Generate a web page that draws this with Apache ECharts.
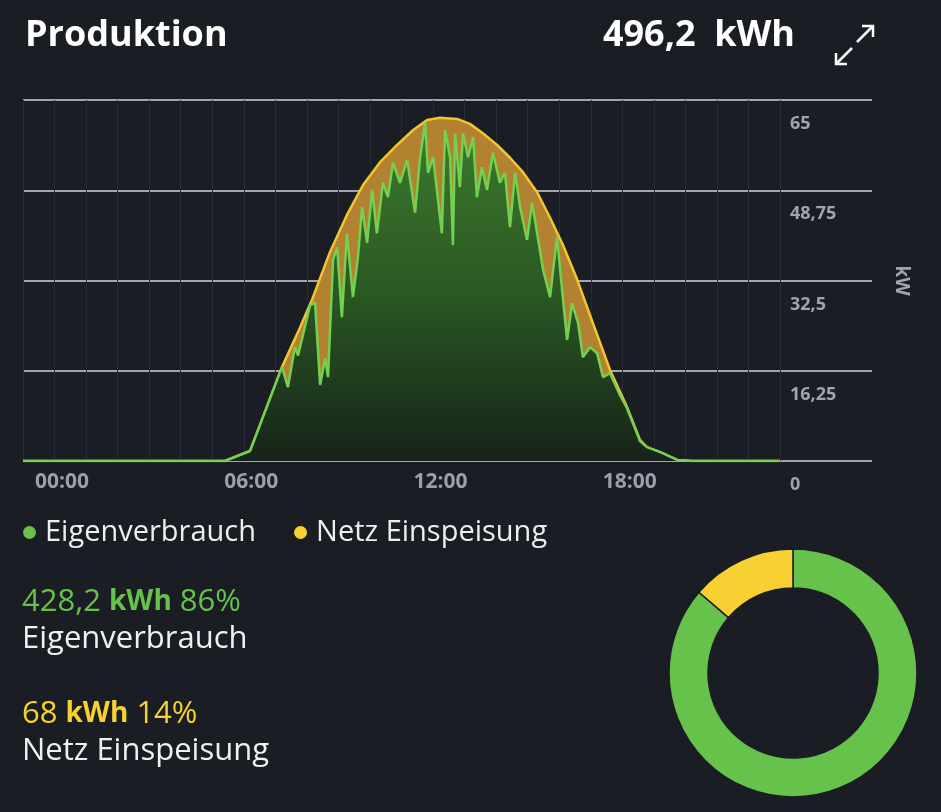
<!DOCTYPE html>
<html>
<head>
<meta charset="utf-8">
<script src="https://cdn.jsdelivr.net/npm/echarts@6/dist/echarts.min.js"></script>
<style>
  html, body { margin: 0; padding: 0; background: #1a1d23; }
  #chart { width: 941px; height: 812px; }
</style>
</head>
<body>
<div id="chart"></div>
<script>
// ---- data ----
const xTickLabels = ['00:00', '06:00', '12:00', '18:00'];
const yTicks = [0, 16.25, 32.5, 48.75, 65];

// Netz Einspeisung (upper envelope = total production), hours / kW
const prodHours = [0, 6.4, 7.2, 8.21, 8.78, 9.16, 9.73, 10.27, 10.78, 11.32, 11.86, 12.37, 12.81, 13.22, 13.76, 14.17, 14.58, 15.03, 15.44, 15.85, 16.3, 16.71, 17.12, 17.56, 18.07, 18.61, 19.15, 19.56, 19.78, 20.2, 20.74, 21.2, 24];
const prodKW    = [0, 0, 1.8, 16.9, 24.0, 29.0, 37.6, 44.3, 49.7, 53.8, 56.9, 59.6, 61.4, 61.8, 61.6, 60.7, 59.0, 56.9, 54.6, 52.0, 48.4, 43.8, 38.9, 32.8, 24.8, 16.4, 9.7, 3.8, 2.5, 1.6, 0.2, 0, 0];

// Eigenverbrauch, hours / kW
const eigenHours = [0, 6.4, 7.2, 8.21, 8.4, 8.62, 8.72, 9.1, 9.26, 9.42, 9.58, 9.67, 9.83, 9.96, 10.11, 10.27, 10.46, 10.62, 10.75, 10.91, 11.07, 11.22, 11.41, 11.57, 11.73, 11.95, 12.18, 12.43, 12.59, 12.75, 12.84, 13.0, 13.28, 13.38, 13.54, 13.63, 13.7, 13.85, 13.95, 14.11, 14.27, 14.39, 14.55, 14.71, 14.9, 15.12, 15.28, 15.44, 15.6, 15.76, 15.98, 16.14, 16.3, 16.49, 16.71, 16.93, 17.09, 17.25, 17.41, 17.6, 17.75, 17.98, 18.2, 18.39, 18.61, 18.93, 19.15, 19.56, 19.78, 20.2, 20.74, 21.2, 24];
const eigenKW    = [0, 0, 1.8, 16.9, 13.3, 20.5, 19.0, 28.0, 28.5, 13.7, 18.5, 15.1, 36.2, 38.5, 25.9, 41.0, 29.5, 36.7, 45.7, 39.3, 48.8, 41.0, 50.1, 47.5, 53.7, 50.1, 54.2, 44.7, 54.7, 60.9, 51.9, 54.7, 41.0, 59.6, 54.7, 38.9, 59.0, 49.3, 59.0, 54.7, 58.3, 47.5, 52.9, 48.8, 55.5, 50.1, 51.9, 42.1, 51.9, 45.7, 39.8, 46.5, 41.0, 34.4, 29.5, 40.3, 30.8, 21.8, 28.4, 24.8, 18.7, 20.5, 19.4, 15.1, 15.8, 11.8, 9.5, 3.6, 2.5, 1.6, 0.2, 0, 0];

// Summary values
const totalLabel = '496,2  kWh';
const donutNames = ['Eigenverbrauch', 'Netz Einspeisung'];
const donutValues = [428.2, 68];
const donutPercents = ['86%', '14%'];
const donutValueLabels = ['428,2', '68'];

// ---- chart ----
const GREEN = '#66c24a';
const YELLOW = '#f7d031';
const chart = echarts.init(document.getElementById('chart'), null, { renderer: 'canvas' });

const zip = (a, b) => a.map((v, i) => [v, b[i]]);

const option = {
  backgroundColor: '#1a1d23',
  animation: false,
  grid: [
    { left: 23, top: 100, width: 757, height: 361 },
    { left: 23, top: 100, width: 849, height: 361 }
  ],
  xAxis: [
    {
      type: 'value', gridIndex: 0, min: 0, max: 24, interval: 1,
      axisLine: { show: false }, axisTick: { show: false },
      splitLine: { show: true, lineStyle: { color: '#272b33', width: 1 } },
      axisLabel: {
        color: '#9b9fa6', fontSize: 21, fontWeight: 'bold', fontFamily: 'Open Sans',
        align: 'left', margin: 11, padding: [0, 0, 0, 12],
        showMaxLabel: false,
        formatter: function (v) {
          const idx = xTickLabels.indexOf((v < 10 ? '0' : '') + v + ':00');
          return (v % 6 === 0 && idx >= 0) ? xTickLabels[idx] : '';
        }
      }
    },
    { type: 'value', gridIndex: 1, min: 0, max: 1, show: false }
  ],
  yAxis: [
    { type: 'value', gridIndex: 0, min: 0, max: 65, show: false },
    {
      type: 'value', gridIndex: 1, min: yTicks[0], max: yTicks[yTicks.length - 1], interval: yTicks[1],
      position: 'right',
      axisLine: { show: false }, axisTick: { show: false },
      splitLine: { show: true, lineStyle: { color: '#a3a5aa', width: 2 } },
      axisLabel: {
        inside: true, align: 'left', margin: 82, verticalAlign: 'top', padding: [15, 0, 0, 0],
        color: '#a1a4aa', fontSize: 18, fontWeight: 'bold', fontFamily: 'Open Sans',
        formatter: v => String(v).replace('.', ',')
      },
      name: 'kW', nameLocation: 'middle', nameRotate: -90, nameGap: 20,
      nameTextStyle: { color: '#a1a4aa', fontSize: 19, fontWeight: 'bold', fontFamily: 'Open Sans' }
    }
  ],
  legend: {
    data: donutNames,
    left: 18, top: 513,
    icon: 'circle', itemWidth: 13, itemHeight: 13, itemGap: 38,
    textStyle: { color: '#eeeeee', fontSize: 29, fontFamily: 'Open Sans', padding: [0, 0, 0, 4] },
    selectedMode: false
  },
  series: [
    {
      name: 'Netz Einspeisung', type: 'line', xAxisIndex: 0, yAxisIndex: 0,
      data: zip(prodHours, prodKW), symbol: 'none', silent: true,
      itemStyle: { color: YELLOW },
      lineStyle: { color: '#f1c530', width: 2.5 },
      areaStyle: { color: '#b38230', opacity: 1 },
      z: 2
    },
    {
      name: 'Eigenverbrauch', type: 'line', xAxisIndex: 0, yAxisIndex: 0,
      data: zip(eigenHours, eigenKW), symbol: 'none', silent: true,
      itemStyle: { color: GREEN },
      lineStyle: { color: '#74d050', width: 2.5 },
      areaStyle: {
        opacity: 1,
        color: new echarts.graphic.LinearGradient(0, 0, 0, 1, [
          { offset: 0, color: '#3d7a2d' },
          { offset: 0.5, color: '#2b5823' },
          { offset: 1, color: '#16231a' }
        ])
      },
      z: 3
    },
    {
      type: 'pie', center: [793, 673], radius: [85, 124],
      startAngle: 90, clockwise: true, silent: true,
      label: { show: false }, labelLine: { show: false },
      itemStyle: { borderColor: '#1a1d23', borderWidth: 1.5 },
      data: donutNames.map((n, i) => ({ name: n, value: donutValues[i], itemStyle: { color: i === 0 ? GREEN : YELLOW } }))
    }
  ],
  graphic: [
    { type: 'text', left: 25, top: 18, style: { text: 'Produktion', fill: '#ffffff', font: 'bold 36px "Open Sans"' } },
    { type: 'text', right: 146, top: 18, style: { text: totalLabel, fill: '#ffffff', font: 'bold 36px "Open Sans"' } },
    { type: 'polyline', shape: { points: [[857, 42], [873, 26]] }, style: { stroke: '#fff', lineWidth: 2.5, fill: null } },
    { type: 'polyline', shape: { points: [[862, 26], [873, 26], [873, 37]] }, style: { stroke: '#fff', lineWidth: 2.5, fill: null } },
    { type: 'polyline', shape: { points: [[852, 48], [836, 64]] }, style: { stroke: '#fff', lineWidth: 2.5, fill: null } },
    { type: 'polyline', shape: { points: [[836, 53], [836, 64], [847, 64]] }, style: { stroke: '#fff', lineWidth: 2.5, fill: null } },
    {
      type: 'text', left: 22, top: 587,
      style: {
        text: '{v|' + donutValueLabels[0] + ' }{u|kWh}{v| ' + donutPercents[0] + '}',
        rich: {
          v: { fill: GREEN, font: '31px "Open Sans"' },
          u: { fill: GREEN, font: 'bold 28px "Open Sans"' }
        }
      }
    },
    { type: 'text', left: 22, top: 624, style: { text: donutNames[0], fill: '#f0f0f0', font: '31px "Open Sans"' } },
    {
      type: 'text', left: 22, top: 699,
      style: {
        text: '{v|' + donutValueLabels[1] + ' }{u|kWh}{v| ' + donutPercents[1] + '}',
        rich: {
          v: { fill: YELLOW, font: '31px "Open Sans"' },
          u: { fill: YELLOW, font: 'bold 28px "Open Sans"' }
        }
      }
    },
    { type: 'text', left: 22, top: 736, style: { text: donutNames[1], fill: '#f0f0f0', font: '31px "Open Sans"' } }
  ]
};
chart.setOption(option);
</script>
</body>
</html>
